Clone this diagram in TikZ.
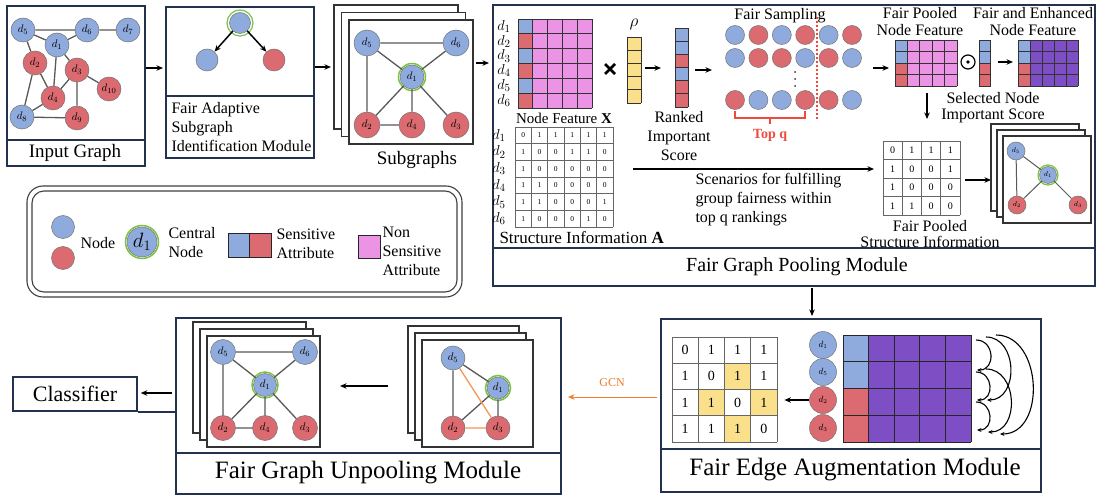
\documentclass[tikz,border=0pt]{standalone}
\usepackage{fontspec}
\setmainfont{Liberation Serif}
\usetikzlibrary{arrows.meta}
\definecolor{nblue}{HTML}{8FAADC}
\definecolor{nred}{HTML}{DB6B70}
\definecolor{npink}{HTML}{EB94E6}
\definecolor{npurple}{HTML}{7E4EC4}
\definecolor{nyellow}{HTML}{FBE08C}
\definecolor{ngreen}{HTML}{7CC242}
\definecolor{navy}{HTML}{23324F}
\definecolor{gcnorange}{HTML}{F07D2C}
\definecolor{topred}{HTML}{EE4B3E}

\newcommand\pstack[5]{\foreach \k in {0,1,2}{\draw[fill=white,line width=1.1pt,draw=black!80] ({#1+\k*#5},{#2+\k*#5}) rectangle ++({#3},{#4});}}

% x,y,cw,ch,ncols,nrows,firstcolcolors,rest
\newcommand\colmat[8]{%
  \foreach \cc [count=\ii from 0] in {#7}{%
    \fill[\cc] ({#1},{#2+\ii*#4}) rectangle ++({#3},{#4});
  }%
  \ifnum#5>1 \fill[#8] ({#1+#3},{#2}) rectangle ++({(#5-1)*#3},{#6*#4});\fi
  \foreach \ii in {0,...,#6}{\draw[matl] ({#1},{#2+\ii*#4}) -- ++({#5*#3},0);}%
  \foreach \jj in {0,...,#5}{\draw[matl] ({#1+\jj*#3},{#2}) -- ++(0,{#6*#4});}%
}
% x,y,cw,ch,ncols,nrows,rows,font
\newcommand\nummat[8]{%
  \foreach \rr [count=\ii from 0] in {#7}{%
    \foreach \vv [count=\jj from 0] in \rr {%
      \node[font=#8,inner sep=0pt] at ({#1+(\jj+0.5)*#3},{#2+(\ii+0.5)*#4}) {\vv};
    }}%
  \foreach \ii in {0,...,#6}{\draw[matl] ({#1},{#2+\ii*#4}) -- ++({#5*#3},0);}%
  \foreach \jj in {0,...,#5}{\draw[matl] ({#1+\jj*#3},{#2}) -- ++(0,{#6*#4});}%
}

\tikzset{
  bn/.style={circle,draw=black!55,line width=0.5pt,fill=nblue,inner sep=0pt,minimum size=24pt,font=\fontsize{11}{11}\selectfont},
  rn/.style={bn,fill=nred},
  ring/.style={draw=ngreen,line width=1.5pt},
  ed/.style={draw=black!65,line width=1.3pt},
  oed/.style={draw=gcnorange!80,line width=1.3pt},
  arr/.style={-{Stealth[length=6.5pt,width=5.5pt]},line width=1.5pt},
  box/.style={draw=navy,line width=1.6pt,inner sep=0pt},
  matl/.style={draw=black!80,line width=0.8pt},
  t16/.style={font=\fontsize{16}{19}\selectfont},
  smp/.style={circle,draw=black!55,line width=0.5pt,inner sep=0pt,minimum size=19pt},
}

\begin{document}
\begin{tikzpicture}[x=1pt,y=-1pt]
\path[use as bounding box,fill=white] (0,0) rectangle (1097,497);

% ================= Input graph
\node[box,minimum width=138pt,minimum height=160pt,anchor=north west] (IG) at (6,5) {};
\draw[navy,line width=1.6pt] (6,140) -- (144,140);
\node[font=\fontsize{19}{19}\selectfont] (IGt) at (75,153) {Input Graph};
\node[bn] (i5) at (23,30) {$d_5$};
\node[bn] (i6) at (87,30) {$d_6$};
\node[bn] (i7) at (128,30) {$d_7$};
\node[bn] (i1) at (57,45) {$d_1$};
\node[rn] (i2) at (35,63) {$d_2$};
\node[rn] (i3) at (77,70) {$d_3$};
\node[rn] (i10) at (109,89) {$d_{10}$};
\node[rn] (i4) at (53,98) {$d_4$};
\node[bn] (i8) at (22,117) {$d_8$};
\node[rn] (i9) at (77,118) {$d_9$};
\draw[ed] (i5)--(i6) (i6)--(i7) (i5)--(i1) (i1)--(i6) (i5)--(i2) (i1)--(i4) (i1)--(i3)
  (i2)--(i4) (i2)--(i8) (i3)--(i4) (i3)--(i10) (i3)--(i9) (i4)--(i8) (i8)--(i9);

\coordinate (a1s) at (146,68); \coordinate (a1e) at (163,68);
\draw[arr] (a1s) -- (a1e);

% ================= Fair adaptive subgraph identification
\node[box,minimum width=148pt,minimum height=151pt,anchor=north west] (FA) at (165,6) {};
\draw[navy,line width=1.6pt] (165,96) -- (313,96);
\node[anchor=west,align=left,t16] (FAt) at (168,127) {Fair Adaptive\\Subgraph\\Identification Module};
\node[bn,minimum size=21pt] (f0) at (240,23) {};
\draw[ring,line width=1.2pt] (f0) circle (13pt);
\node[bn,minimum size=22pt] (f1) at (207,60) {};
\node[rn,minimum size=22pt] (f2) at (274,60) {};
\draw[arr] (f0) -- (f1);
\draw[arr] (f0) -- (f2);

\coordinate (a2s) at (315,67); \coordinate (a2e) at (331,67);
\draw[arr] (a2s) -- (a2e);

% ================= Subgraphs
\pstack{334}{5}{124}{124}{7.5}
\node[bn,minimum size=26pt] (s5) at (367,43) {$d_5$};
\node[bn,minimum size=26pt] (s6) at (456,43) {$d_6$};
\node[bn,minimum size=24pt] (s1) at (412,77) {$d_1$};
\draw[ring] (s1) circle (13.5pt);
\node[rn,minimum size=26pt] (s2) at (367,125) {$d_2$};
\node[rn,minimum size=26pt] (s4) at (412,125) {$d_4$};
\node[rn,minimum size=26pt] (s3) at (456,125) {$d_3$};
\draw[ed] (s5)--(s6) (s5)--(s1) (s6)--(s1) (s5)--(s2) (s1)--(s2) (s1)--(s4) (s1)--(s3) (s2)--(s4);
\node[font=\fontsize{19}{19}\selectfont] (SGt) at (417,160) {Subgraphs};

\coordinate (a3s) at (476,63); \coordinate (a3e) at (489,63);
\draw[arr] (a3s) -- (a3e);

% ================= Fair Graph Pooling Module
\node[box,minimum width=602pt,minimum height=281pt,anchor=north west] (FGP) at (492,4) {};
\draw[navy,line width=1.6pt] (492,248) -- (1094,248);
\node[font=\fontsize{20}{20}\selectfont] (FGPt) at (797,267) {Fair Graph Pooling Module};

% node feature matrix
\foreach \i in {1,...,6}{\node[font=\fontsize{15}{15}\selectfont] (nfl\i) at (504,{19+(\i-0.5)*14.83}) {$d_{\i}$};}
\colmat{518}{19}{14.8}{14.83}{5}{6}{nblue,nred,nblue,nred,nblue,nred}{npink}
\node[font=\fontsize{15}{15}\selectfont] (NFt) at (564,118) {Node Feature \textbf{X}};
% times
\draw[line width=2.6pt] (605,64) -- (615,74) (605,74) -- (615,64);
% rho
\node[font=\fontsize{16}{16}\selectfont] (rho) at (634,24) {$\rho$};
\colmat{627}{37}{14}{13.2}{1}{5}{nyellow,nyellow,nyellow,nyellow,nyellow}{nyellow}
\coordinate (a4s) at (645,68); \coordinate (a4e) at (661,68);
\draw[arr] (a4s) -- (a4e);
% ranked
\colmat{675}{28}{13}{13.17}{1}{6}{nblue,nblue,nred,nblue,nred,nred}{nblue}
\node[align=center,t16] (RIt) at (679,136) {Ranked\\Important\\Score};
\coordinate (a5s) at (695,70); \coordinate (a5e) at (712,70);
\draw[arr] (a5s) -- (a5e);

% fair sampling
\node[t16] (FSt) at (780,16) {Fair Sampling};
\foreach \c [count=\k from 0] in {nblue,nred,nblue,nred,nblue,nred}{\node[smp,fill=\c] (sa\k) at ({735+\k*23.4},35) {};}
\foreach \c [count=\k from 0] in {nblue,nred,nred,nblue,nred,nblue}{\node[smp,fill=\c] (sb\k) at ({735+\k*23.4},58) {};}
\foreach \c [count=\k from 0] in {nred,nblue,nblue,nred,nred,nblue}{\node[smp,fill=\c] (sc\k) at ({735+\k*23.4},100) {};}
\foreach \yy in {72,79,86}{\fill[black!80] (795,\yy) circle (1pt);}
\draw[topred,line width=1.8pt,dash pattern=on 2pt off 2pt] (817,17) -- (817,120);
\draw[topred,line width=1.2pt] (735,111) -- (735,118) -- (805,118) -- (805,111) (770,118) -- (770,124);
\node[topred,font=\bfseries\fontsize{14}{14}\selectfont] (topq) at (770,135) {Top q};

\coordinate (a6s) at (873,68); \coordinate (a6e) at (889,68);
\draw[arr] (a6s) -- (a6e);

% fair pooled node feature
\node[align=center,font=\fontsize{16}{17}\selectfont] (FPNt) at (920,22) {Fair Pooled\\Node Feature};
\colmat{895}{40}{12.4}{11.5}{5}{4}{nblue,nblue,nred,nred}{npink}
\draw[line width=1.2pt] (968,62) circle (7pt);
\fill (968,62) circle (1.8pt);
\colmat{979}{40}{11.5}{11.5}{1}{4}{nblue,nblue,nred,nred}{nblue}
\coordinate (a7s) at (998,62); \coordinate (a7e) at (1013,62);
\draw[arr] (a7s) -- (a7e);
\colmat{1018}{40}{12}{11.5}{5}{4}{nblue,nblue,nred,nred}{npurple}
\node[align=center,font=\fontsize{16}{17}\selectfont] (FENt) at (1033,22) {Fair and Enhanced\\Node Feature};
\coordinate (a8s) at (927,93); \coordinate (a8e) at (927,119);
\draw[arr] (a8s) -- (a8e);
\node[align=center,font=\fontsize{16}{16}\selectfont] (SNt) at (993,108) {Selected Node\\Important Score};

% structure information
\foreach \i in {1,...,6}{\node[font=\fontsize{15}{15}\selectfont] (sil\i) at (499,{127+(\i-0.5)*16.67}) {$d_{\i}$};}
\begin{scope}[matl/.style={draw=black!60,line width=0.7pt}]
\nummat{515}{127}{16.33}{16.67}{6}{6}{{0,1,1,1,1,1},{1,0,0,1,1,0},{1,0,0,0,0,0},{1,1,0,0,0,0},{1,1,0,0,0,1},{1,0,0,0,1,0}}{\fontsize{7.5}{7.5}\selectfont}
\end{scope}
\node[anchor=west,font=\fontsize{17}{17}\selectfont] (SIt) at (496,238) {Structure Information \textbf{A}};
\coordinate (a9s) at (633,169); \coordinate (a9e) at (874,169);
\draw[arr] (a9s) -- (a9e);
\node[anchor=west,align=left,t16] (SCt) at (692,200) {Scenarios for fulfilling\\group fairness within\\top q rankings};
\begin{scope}[matl/.style={draw=black!60,line width=0.8pt}]
\nummat{883}{141}{19.25}{18.5}{4}{4}{{0,1,1,1},{1,0,0,1},{1,0,0,0},{1,1,0,0}}{\fontsize{10}{10}\selectfont}
\end{scope}
\node[align=center,font=\fontsize{16}{16}\selectfont] (FPSt) at (930,234) {Fair Pooled\\Structure Information};
\coordinate (a10s) at (965,180); \coordinate (a10e) at (991,180);
\draw[arr] (a10s) -- (a10e);
\pstack{991}{124}{88}{87}{6}
\node[bn,minimum size=18pt,font=\fontsize{7}{7}\selectfont] (p5) at (1016,151) {$d_5$};
\node[bn,minimum size=17pt,font=\fontsize{7}{7}\selectfont] (p1) at (1048,175) {$d_1$};
\draw[ring,line width=1.2pt] (p1) circle (10pt);
\node[rn,minimum size=18pt,font=\fontsize{7}{7}\selectfont] (p2) at (1017,205) {$d_2$};
\node[rn,minimum size=18pt,font=\fontsize{7}{7}\selectfont] (p3) at (1078,205) {$d_3$};
\draw[ed,line width=1pt] (p5)--(p1) (p5)--(p2) (p1)--(p2) (p1)--(p3);

\coordinate (a11s) at (812,288); \coordinate (a11e) at (812,316);
\draw[arr] (a11s) -- (a11e);

% ================= Legend
\draw[line width=1.1pt,draw=black!75,rounded corners=16pt] (27,186) rectangle (462,297);
\draw[line width=1.1pt,draw=black!75,rounded corners=12pt] (32,191) rectangle (457,292);
\node[bn,minimum size=23pt] (lb) at (63,227) {};
\node[rn,minimum size=23pt] (lr) at (63,258) {};
\node[t16] (lnode) at (98,243) {Node};
\node[bn,minimum size=30pt,font=\fontsize{20}{20}\selectfont] (lc) at (142,242) {$d_1$};
\draw[ring] (lc) circle (16.5pt);
\node[anchor=west,align=left,t16] (lct) at (165,242.5) {Central\\Node};
\fill[nblue] (228,233) rectangle (249,257);
\fill[nred] (249,233) rectangle (271,257);
\draw[line width=1pt,draw=black!85] (228,233) rectangle (271,257) (249,233) -- (249,257);
\node[anchor=west,align=left,t16] (lst) at (273,243.5) {Sensitive\\Attribute};
\draw[line width=1pt,draw=black!85,fill=npink] (358,235) rectangle (380,258);
\node[anchor=west,align=left,t16] (lnt) at (379,251) {Non\\Sensitive\\Attribute};

% ================= Fair Edge Augmentation Module
\node[box,minimum width=380pt,minimum height=173pt,anchor=north west] (FEA) at (660,318) {};
\draw[navy,line width=1.6pt] (660,449) -- (1040,449);
\node[font=\fontsize{25}{25}\selectfont] (FEAt) at (855,470) {Fair Edge Augmentation Module};
\foreach \r/\c in {1/2,2/1,2/3,3/2}{\fill[nyellow] ({672+\c*26.25},{337+\r*26.25}) rectangle ++(26.25,26.25);}
\begin{scope}[matl/.style={draw=black!60,line width=0.9pt}]
\nummat{672}{337}{26.25}{26.25}{4}{4}{{0,1,1,1},{1,0,1,1},{1,1,0,1},{1,1,1,0}}{\fontsize{14}{14}\selectfont}
\end{scope}
\node[inner sep=0pt,minimum width=105pt,minimum height=105pt,anchor=north west] (EAM) at (672,337) {};
\node[bn,minimum size=27pt,font=\fontsize{9}{9}\selectfont] (e1) at (823,345) {$d_1$};
\node[bn,minimum size=27pt,font=\fontsize{9}{9}\selectfont] (e5) at (823,372) {$d_5$};
\node[rn,minimum size=27pt,font=\fontsize{9}{9}\selectfont] (e2) at (823,400) {$d_2$};
\node[rn,minimum size=27pt,font=\fontsize{9}{9}\selectfont] (e3) at (823,428) {$d_3$};
\draw[arr,shorten >=7pt] (e2.west) -- (e2.west -| EAM.east);
\begin{scope}[matl/.style={draw=black!85,line width=1pt}]
\colmat{843}{335}{25.6}{26.75}{5}{4}{nblue,nblue,nred,nred}{npurple}
\end{scope}
\begin{scope}[-{Stealth[length=4.5pt,width=4pt]},line width=1.1pt]
\draw (976,340) to[out=0,in=0,looseness=1.6] (977,370);
\draw (976,372) to[out=0,in=0,looseness=1.6] (977,400);
\draw (976,402) to[out=0,in=0,looseness=1.6] (977,430);
\draw (986,337) to[out=0,in=0,looseness=1.3] (987,400);
\draw (986,369) to[out=0,in=0,looseness=1.3] (988,432);
\draw (996,335) to[out=0,in=0,looseness=1.2] (1000,434);
\end{scope}

% GCN
\coordinate (gs) at (657,397); \coordinate (ge) at (568,397);
\draw[arr,gcnorange,line width=0.9pt] (gs) -- (ge);
\node[gcnorange,font=\fontsize{12}{12}\selectfont] (gcn) at (612,383) {GCN};

% ================= Fair Graph Unpooling Module
\node[box,minimum width=385pt,minimum height=176pt,anchor=north west] (UP) at (175,317) {};
\draw[navy,line width=1.6pt] (175,453) -- (560,453);
\node[font=\fontsize{25}{25}\selectfont] (UPt) at (368,473) {Fair Graph Unpooling Module};
\pstack{193}{322}{113}{111}{7}
\node[bn,minimum size=25pt] (u5) at (223,352) {$d_5$};
\node[bn,minimum size=25pt] (u6) at (305,352) {$d_6$};
\node[bn,minimum size=23pt] (u1) at (265,385) {$d_1$};
\draw[ring] (u1) circle (13pt);
\node[rn,minimum size=25pt] (u2) at (223,428) {$d_2$};
\node[rn,minimum size=25pt] (u4) at (265,428) {$d_4$};
\node[rn,minimum size=25pt] (u3) at (305,428) {$d_3$};
\draw[ed] (u5)--(u6) (u5)--(u1) (u6)--(u1) (u5)--(u2) (u1)--(u2) (u1)--(u4) (u1)--(u3) (u2)--(u4);
\coordinate (a12s) at (388,386); \coordinate (a12e) at (340,386);
\draw[arr] (a12s) -- (a12e);
\pstack{408}{326}{111}{107}{7}
\node[bn,minimum size=24pt] (v5) at (453,358) {$d_5$};
\node[bn,minimum size=22pt] (v1) at (498,388) {$d_1$};
\draw[ring] (v1) circle (12.5pt);
\node[rn,minimum size=24pt] (v2) at (453,428) {$d_2$};
\node[rn,minimum size=24pt] (v3) at (498,428) {$d_3$};
\draw[ed] (v5)--(v1) (v5)--(v2) (v1)--(v2) (v1)--(v3);
\draw[oed] (v5)--(v3) (v2)--(v3);

% ================= Classifier
\node[box,minimum width=124pt,minimum height=34pt,font=\fontsize{22}{22}\selectfont] (CL) at (75,394) {Classifier};
\draw[navy,line width=1.4pt] (CL.south east) -- (CL.south east -| UP.west);
\coordinate (clin) at (172,393);
\draw[arr,shorten >=3pt] (clin) -- (clin -| CL.east);
\end{tikzpicture}
\end{document}
